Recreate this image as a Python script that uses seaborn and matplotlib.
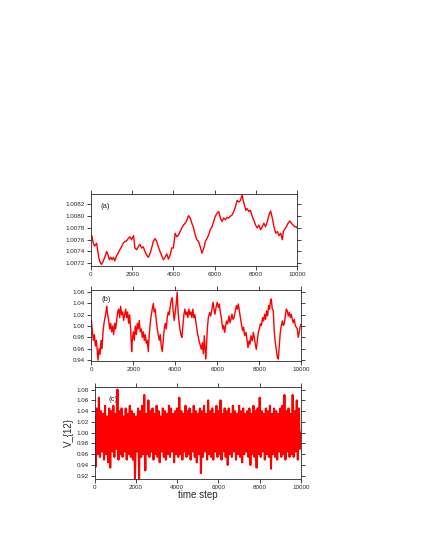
import numpy as np
import matplotlib
matplotlib.use("Agg")
import matplotlib.pyplot as plt
import seaborn as sns

# =========================================
# Data
# (a) slow drift
t_a = [0, 49, 115, 180, 229, 278, 311, 376, 441, 506, 587, 668, 766, 831, 896, 961,
       1026, 1091, 1156, 1237, 1319, 1400, 1481, 1563, 1644, 1726, 1807, 1888, 1969,
       2067, 2132, 2213, 2294, 2376, 2457, 2538, 2620, 2701, 2782, 2864, 2945, 3026,
       3107, 3189, 3270, 3351, 3433, 3514, 3595, 3677, 3758, 3839, 3920, 4002, 4083,
       4164, 4246, 4327, 4408, 4490, 4571, 4652, 4733, 4815, 4896, 4977, 5059, 5140,
       5221, 5302, 5384, 5497, 5546, 5628, 5709, 5790, 5872, 5953, 6034, 6115, 6197,
       6278, 6359, 6440, 6522, 6603, 6684, 6766, 6847, 6928, 7009, 7091, 7172, 7253,
       7335, 7383, 7448, 7513, 7578, 7660, 7741, 7822, 7904, 7985, 8066, 8148, 8229,
       8310, 8391, 8473, 8554, 8635, 8717, 8798, 8879, 8961, 9042, 9123, 9204, 9286,
       9335, 9400, 9481, 9562, 9644, 9725, 9806, 9888, 9969, 10000]
v_a = [1.00768, 1.00766, 1.00754, 1.00749, 1.00752, 1.00754, 1.00746, 1.0073, 1.00722,
       1.00718, 1.00723, 1.0073, 1.0074, 1.00734, 1.00726, 1.0073, 1.00726, 1.0073,
       1.00724, 1.00732, 1.00737, 1.00743, 1.00748, 1.00754, 1.00757, 1.00758, 1.00762,
       1.00765, 1.0076, 1.00767, 1.00746, 1.00743, 1.00748, 1.00752, 1.00746, 1.00748,
       1.0074, 1.00734, 1.0073, 1.00736, 1.00746, 1.00757, 1.00762, 1.00757, 1.00748,
       1.0074, 1.00733, 1.00726, 1.0073, 1.00736, 1.00727, 1.00734, 1.00746, 1.00746,
       1.00771, 1.00765, 1.00768, 1.00774, 1.0078, 1.00785, 1.00788, 1.00793, 1.00801,
       1.00797, 1.00788, 1.0078, 1.00768, 1.0076, 1.00757, 1.00748, 1.00737, 1.00748,
       1.00757, 1.00762, 1.00768, 1.00777, 1.00782, 1.00791, 1.008, 1.00805, 1.00808,
       1.00797, 1.00791, 1.00797, 1.00794, 1.00798, 1.00797, 1.008, 1.00802, 1.00808,
       1.00816, 1.00827, 1.00824, 1.00827, 1.00836, 1.00827, 1.00819, 1.0081, 1.00813,
       1.00808, 1.0081, 1.008, 1.00793, 1.00785, 1.0078, 1.00785, 1.00777, 1.00782,
       1.00788, 1.00782, 1.00791, 1.00802, 1.00809, 1.00797, 1.00782, 1.00771, 1.00774,
       1.00767, 1.00771, 1.0076, 1.00774, 1.00778, 1.00782, 1.00788, 1.00792, 1.00788,
       1.00785, 1.00782, 1.00782, 1.0078]

# (b) faster fluctuations
t_b = [0, 48, 95, 143, 190, 238, 285, 317, 365, 412, 460, 507, 555, 602, 650, 697, 729,
       777, 824, 872, 919, 967, 1014, 1062, 1110, 1157, 1205, 1252, 1300, 1347, 1395,
       1442, 1490, 1537, 1585, 1633, 1680, 1728, 1775, 1823, 1870, 1918, 1950, 1997,
       2045, 2092, 2140, 2187, 2235, 2282, 2330, 2378, 2425, 2473, 2520, 2568, 2615,
       2663, 2710, 2758, 2805, 2853, 2900, 2948, 2996, 3043, 3091, 3138, 3186, 3233,
       3281, 3328, 3376, 3424, 3471, 3519, 3566, 3614, 3661, 3709, 3756, 3804, 3851,
       3899, 3947, 3994, 4042, 4089, 4121, 4168, 4216, 4263, 4311, 4359, 4406, 4454,
       4501, 4549, 4596, 4644, 4692, 4739, 4787, 4834, 4882, 4929,
       5047, 5110, 5174, 5237, 5285, 5333, 5380, 5412, 5444, 5476, 5523, 5571, 5634,
       5682, 5730, 5793, 5841, 5888, 5952, 5999, 6047, 6095, 6142, 6190, 6253, 6301,
       6349, 6396, 6444, 6491, 6555, 6602, 6650, 6698, 6745, 6793, 6856, 6904, 6951,
       6999, 7047, 7110, 7158, 7205, 7253, 7300, 7364, 7411, 7459, 7507, 7554, 7602,
       7665, 7713, 7760, 7808, 7856, 7903, 7951, 7998, 8046, 8094, 8157, 8205, 8252,
       8300, 8348, 8395, 8443, 8491, 8538, 8570, 8617, 8665, 8713, 8760, 8808, 8855,
       8903, 8951, 8998, 9046, 9094, 9141, 9189, 9236, 9284, 9332, 9379, 9427, 9474,
       9522, 9570, 9617, 9665, 9713, 9760, 9808, 9855, 9903, 9951, 9998]
v_b = [1.010, 0.990, 0.975, 0.985, 0.965, 0.975, 0.955, 0.940, 0.960, 0.950, 0.975,
       0.960, 0.990, 1.005, 1.015, 1.025, 1.035, 1.020, 1.010, 0.995, 1.005, 0.990,
       1.000, 0.985, 1.005, 0.995, 1.010, 1.025, 1.030, 1.015, 1.035, 1.020, 1.025,
       1.010, 1.020, 1.030, 1.015, 1.025, 1.005, 1.020, 0.995, 0.955, 0.975, 0.990,
       0.975, 1.000, 0.985, 1.005, 0.995, 1.010, 0.990, 0.995, 0.980, 0.990, 0.975,
       0.985, 0.970, 0.975, 0.955, 0.985, 1.005, 1.020, 1.030, 1.040, 1.025, 1.030,
       1.010, 0.995, 0.985, 0.975, 0.985, 0.965, 0.955, 0.975, 0.995, 1.005, 0.995,
       1.015, 1.025, 1.020, 1.035, 1.045, 1.050, 1.025, 1.010, 1.025, 1.040, 1.060,
       1.030, 1.010, 0.995, 0.985, 0.980, 1.000, 1.020, 1.030, 1.020, 1.025, 1.015,
       1.030, 1.020, 1.025, 1.015, 1.030, 1.015, 1.020,
       0.989, 0.977, 0.968, 0.959, 0.971, 0.951, 0.983, 0.962, 0.942, 0.959, 0.995,
       1.015, 1.024, 1.018, 1.027, 1.042, 1.030, 1.021, 1.036, 1.042, 1.033, 1.039,
       1.024, 1.015, 0.995, 1.001, 0.989, 1.001, 1.009, 1.004, 1.018, 1.006, 1.012,
       1.021, 1.012, 1.015, 1.027, 1.036, 1.030, 1.039, 1.027, 1.012, 1.001, 0.992,
       0.998, 0.983, 0.989, 0.977, 0.962, 0.974, 0.968, 0.983, 0.974, 0.989, 0.980,
       0.968, 0.959, 0.974, 0.989, 0.995, 1.004, 1.001, 1.015, 1.009, 1.021, 1.012,
       1.027, 1.018, 1.036, 1.030, 1.045, 1.048, 1.030, 1.027, 0.989, 0.971, 0.959,
       0.945, 0.942, 0.965, 0.989, 1.001, 1.009, 1.001, 1.004, 1.018, 1.030, 1.027,
       1.018, 1.024, 1.015, 1.021, 1.012, 1.006, 1.012, 1.001, 0.998, 0.995, 0.980,
       0.989, 1.001, 1.004]

# (c) V_{12}: dense noise around 1.0
v_c = [1.03, 0.937, 1.045, 0.96, 1.065, 0.955, 1.04, 0.965, 1.035, 0.95,
       1.05, 0.96, 1.03, 0.945, 1.045, 0.935, 1.04, 0.965, 1.05, 0.955,
       1.035, 0.97, 1.08, 0.95, 1.04, 0.96, 1.045, 0.955, 1.03, 0.965,
       1.045, 0.95, 1.035, 0.96, 1.05, 0.955, 1.04, 0.95, 1.035, 0.915,
       1.03, 0.965, 1.045, 0.915, 1.04, 0.955, 1.05, 0.96, 1.07, 0.93,
       1.035, 0.96, 1.06, 0.955, 1.04, 0.965, 1.045, 0.95, 1.035, 0.96,
       1.05, 0.955, 1.04, 0.945, 1.03, 0.965, 1.045, 0.955, 1.04, 0.95,
       1.035, 0.96, 1.05, 0.955, 1.045, 0.965, 1.035, 0.945, 1.04, 0.96,
       1.045, 0.955, 1.065, 0.96, 1.04, 0.95, 1.035, 0.965, 1.05, 0.955,
       1.04, 0.96, 1.045, 0.95, 1.035, 0.965, 1.05, 0.955, 1.04, 0.945,
       1.035, 0.96, 1.045, 0.925, 1.04, 0.955, 1.05, 0.965, 1.035, 0.95,
       1.06, 0.96, 1.04, 0.955, 1.045, 0.95, 1.035, 0.965, 1.05, 0.955,
       1.04, 0.96, 1.06, 0.95, 1.035, 0.965, 1.045, 0.955, 1.04, 0.94,
       1.045, 0.96, 1.035, 0.955, 1.05, 0.965, 1.04, 0.95, 1.035, 0.96,
       1.05, 0.955, 1.04, 0.945, 1.045, 0.96, 1.035, 0.965, 1.04, 0.955,
       1.045, 0.94, 1.035, 0.96, 1.05, 0.955, 1.04, 0.935, 1.045, 0.96,
       1.065, 0.955, 1.04, 0.965, 1.035, 0.95, 1.045, 0.96, 1.04, 0.955,
       1.05, 0.933, 1.035, 0.96, 1.045, 0.955, 1.04, 0.95, 1.035, 0.965,
       1.045, 0.955, 1.05, 0.96, 1.07, 0.95, 1.04, 0.965, 1.045, 0.955,
       1.035, 0.96, 1.07, 0.955, 1.04, 0.965, 1.06, 0.95, 1.045, 0.97, 1.0]
t_c = np.linspace(0, 10000, len(v_c))

x_ticks = [0, 2000, 4000, 6000, 8000, 10000]
y_ticks_a = [1.0072, 1.0074, 1.0076, 1.0078, 1.0080, 1.0082]
y_ticks_b = [0.94, 0.96, 0.98, 1.00, 1.02, 1.04, 1.06]
y_ticks_c = [0.92, 0.94, 0.96, 0.98, 1.00, 1.02, 1.04, 1.06, 1.08]

# =========================================
sns.set_style("ticks")
plt.rcParams['font.family'] = ['Liberation Sans', 'DejaVu Sans']

fig = plt.figure(figsize=(4.25, 5.5), dpi=100)
ax_a = fig.add_axes([0.214, 0.516, 0.485, 0.131])
ax_b = fig.add_axes([0.215, 0.344, 0.494, 0.129])
ax_c = fig.add_axes([0.223, 0.130, 0.485, 0.166])

panels = [
    (ax_a, t_a, v_a, y_ticks_a, (1.00715, 1.008375), '{:.4f}', '(a)', (0.045, 0.83), 1.0),
    (ax_b, t_b, v_b, y_ticks_b, (0.9388, 1.064), '{:.2f}', '(b)', (0.047, 0.86), 1.0),
    (ax_c, t_c, v_c, y_ticks_c, (0.915, 1.0844), '{:.2f}', '(c)', (0.069, 0.87), 1.5),
]

for ax, t, v, yt, ylim, fmt, tag, pos, lw in panels:
    sns.lineplot(x=t, y=v, ax=ax, color='#ff0000', lw=lw, sort=False, estimator=None)
    ax.set_xlim(0, 10000)
    ax.set_ylim(*ylim)
    ax.set_xticks(x_ticks)
    ax.set_xticklabels([str(x) for x in x_ticks])
    ax.set_yticks(yt)
    ax.set_yticklabels([fmt.format(y) for y in yt])
    ax.tick_params(axis='both', direction='out', length=3, width=0.6, pad=1.5,
                   labelsize=4.5, top=True, right=True, labeltop=False, labelright=False)
    for s in ax.spines.values():
        s.set_linewidth(0.6)
    ax.text(pos[0], pos[1], tag, transform=ax.transAxes, fontsize=5.5, va='center')

ax_c.set_xlabel('time step', fontsize=7, labelpad=0)
ax_c.set_ylabel('V_{12}', fontsize=7, labelpad=2)

fig.savefig('out.png', dpi=100)
